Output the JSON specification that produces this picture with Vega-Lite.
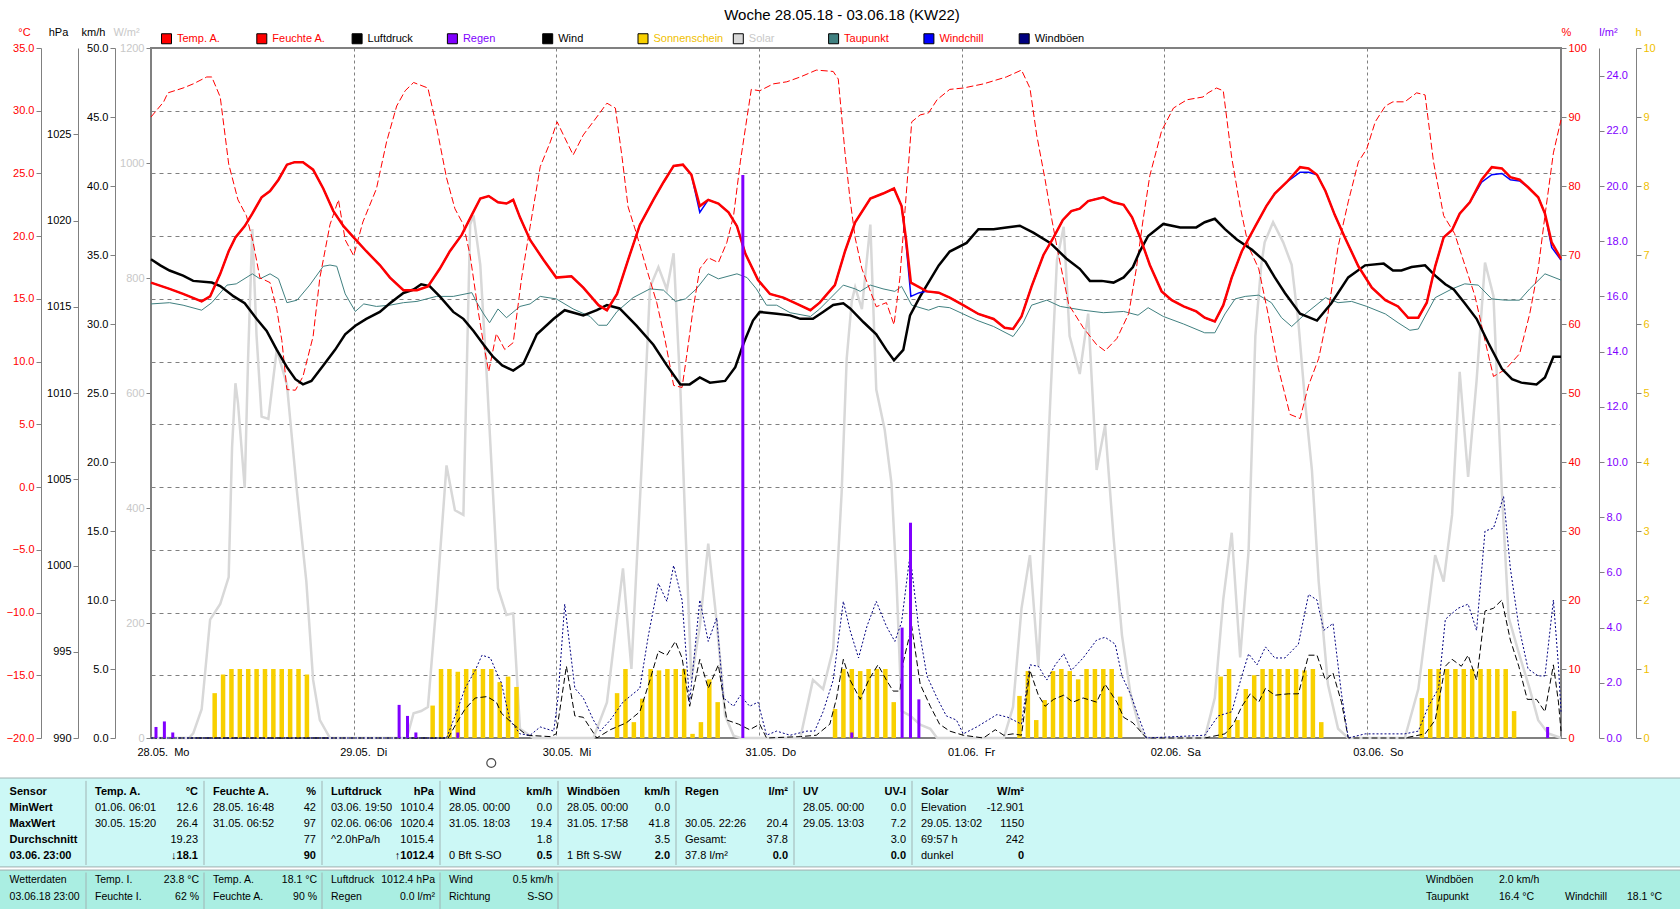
{
  "$schema": "https://vega.github.io/schema/vega-lite/v6.json",
  "width": 1410,
  "height": 690,
  "autosize": {"type": "none"},
  "padding": {"left": 151, "top": 48, "right": 119, "bottom": 171},
  "title": {"text": "Woche 28.05.18 - 03.06.18 (KW22)", "fontSize": 15, "fontWeight": "normal", "font": "Liberation Sans", "anchor": "middle", "dx": -14, "offset": 3, "color": "#000000"},
  "config": {
    "font": "Liberation Sans",
    "view": {"stroke": "#808080", "strokeWidth": 2},
    "axis": {"labelFont": "Liberation Sans", "labelFontSize": 11, "titleFont": "Liberation Sans", "titleFontSize": 11, "titleFontWeight": "normal", "domainColor": "#808080", "tickColor": "#808080", "tickSize": 5, "labelPadding": 2, "grid": false, "labelOverlap": false, "labelFlush": false},
    "text": {"font": "Liberation Sans", "fontSize": 11}
  },
  "resolve": {"scale": {"x": "independent", "y": "independent"}},
  "datasets": {
    "solar": [{"stunde":0,"wert":0},{"stunde":4.5,"wert":0},{"stunde":5,"wert":8},{"stunde":6,"wert":50},{"stunde":7,"wert":206},{"stunde":8.2,"wert":233},{"stunde":9.2,"wert":280},{"stunde":9.6,"wert":505},{"stunde":10,"wert":617},{"stunde":10.3,"wert":583},{"stunde":11.1,"wert":435},{"stunde":11.5,"wert":660},{"stunde":12,"wert":885},{"stunde":12.5,"wert":700},{"stunde":13.1,"wert":559},{"stunde":13.9,"wert":555},{"stunde":14.9,"wert":676},{"stunde":16.1,"wert":614},{"stunde":17.3,"wert":427},{"stunde":18.4,"wert":272},{"stunde":19.2,"wert":101},{"stunde":20,"wert":31},{"stunde":21.2,"wert":0},{"stunde":30.3,"wert":0},{"stunde":31.1,"wert":43},{"stunde":32,"wert":47},{"stunde":32.8,"wert":54},{"stunde":33.8,"wert":233},{"stunde":35,"wert":474},{"stunde":36,"wert":396},{"stunde":37,"wert":388},{"stunde":37.8,"wert":893},{"stunde":38.2,"wert":909},{"stunde":39,"wert":823},{"stunde":39.8,"wert":621},{"stunde":40.5,"wert":427},{"stunde":41.1,"wert":260},{"stunde":42.1,"wert":214},{"stunde":42.9,"wert":217},{"stunde":43.7,"wert":16},{"stunde":45.3,"wert":0},{"stunde":52.4,"wert":0},{"stunde":54,"wert":62},{"stunde":55.9,"wert":295},{"stunde":56.9,"wert":120},{"stunde":58.3,"wert":528},{"stunde":59.1,"wert":784},{"stunde":60.1,"wert":819},{"stunde":61.1,"wert":780},{"stunde":61.9,"wert":843},{"stunde":62.7,"wert":606},{"stunde":63.3,"wert":365},{"stunde":64,"wert":101},{"stunde":65,"wert":194},{"stunde":66,"wert":338},{"stunde":67,"wert":202},{"stunde":68,"wert":39},{"stunde":69,"wert":4},{"stunde":69.8,"wert":0},{"stunde":76.9,"wert":0},{"stunde":78.4,"wert":101},{"stunde":79.6,"wert":85},{"stunde":80.8,"wert":155},{"stunde":81.8,"wert":427},{"stunde":82.4,"wert":660},{"stunde":83,"wert":760},{"stunde":83.4,"wert":784},{"stunde":84.2,"wert":746},{"stunde":85.2,"wert":893},{"stunde":85.9,"wert":606},{"stunde":86.9,"wert":536},{"stunde":87.7,"wert":443},{"stunde":88.3,"wert":272},{"stunde":88.9,"wert":47},{"stunde":89.9,"wert":39},{"stunde":91.1,"wert":23},{"stunde":92.3,"wert":16},{"stunde":93.1,"wert":0},{"stunde":101,"wert":0},{"stunde":102.1,"wert":54},{"stunde":103.1,"wert":225},{"stunde":104.1,"wert":318},{"stunde":105.1,"wert":124},{"stunde":105.9,"wert":388},{"stunde":106.5,"wert":583},{"stunde":107.3,"wert":831},{"stunde":108.1,"wert":889},{"stunde":108.8,"wert":699},{"stunde":110,"wert":633},{"stunde":111,"wert":738},{"stunde":112,"wert":466},{"stunde":113,"wert":544},{"stunde":114,"wert":350},{"stunde":115,"wert":179},{"stunde":116,"wert":78},{"stunde":117.1,"wert":16},{"stunde":117.9,"wert":0},{"stunde":124.8,"wert":0},{"stunde":126,"wert":70},{"stunde":127,"wert":241},{"stunde":128,"wert":357},{"stunde":129,"wert":140},{"stunde":130,"wert":326},{"stunde":130.8,"wert":699},{"stunde":131.5,"wert":823},{"stunde":131.9,"wert":862},{"stunde":132.9,"wert":897},{"stunde":134.1,"wert":862},{"stunde":135.1,"wert":823},{"stunde":135.9,"wert":722},{"stunde":136.7,"wert":583},{"stunde":137.5,"wert":466},{"stunde":138.3,"wert":272},{"stunde":139.4,"wert":93},{"stunde":140.6,"wert":16},{"stunde":141.8,"wert":0},{"stunde":148.5,"wert":0},{"stunde":150.1,"wert":85},{"stunde":152.1,"wert":318},{"stunde":153.1,"wert":272},{"stunde":154.1,"wert":388},{"stunde":155,"wert":637},{"stunde":156,"wert":454},{"stunde":157,"wert":621},{"stunde":158,"wert":827},{"stunde":159,"wert":769},{"stunde":160,"wert":427},{"stunde":160.8,"wert":210},{"stunde":162,"wert":148},{"stunde":163.3,"wert":85},{"stunde":164.3,"wert":31},{"stunde":165.5,"wert":8},{"stunde":167,"wert":0}],
    "sonne": [{"stunde":7,"wert":0.65},{"stunde":8,"wert":0.92},{"stunde":9,"wert":1},{"stunde":10,"wert":1},{"stunde":11,"wert":1},{"stunde":12,"wert":1},{"stunde":13,"wert":1},{"stunde":14,"wert":1},{"stunde":15,"wert":1},{"stunde":16,"wert":1},{"stunde":17,"wert":1},{"stunde":18,"wert":0.92},{"stunde":33,"wert":0.47},{"stunde":34,"wert":1},{"stunde":35,"wert":1},{"stunde":36,"wert":0.96},{"stunde":37,"wert":1},{"stunde":38,"wert":1},{"stunde":39,"wert":1},{"stunde":40,"wert":1},{"stunde":41,"wert":0.81},{"stunde":42,"wert":0.89},{"stunde":43,"wert":0.74},{"stunde":55,"wert":0.65},{"stunde":56,"wert":1},{"stunde":57,"wert":0.23},{"stunde":58,"wert":0.57},{"stunde":59,"wert":1},{"stunde":60,"wert":0.98},{"stunde":61,"wert":1},{"stunde":62,"wert":1},{"stunde":63,"wert":1},{"stunde":64,"wert":0.06},{"stunde":65,"wert":0.23},{"stunde":66,"wert":0.85},{"stunde":67,"wert":0.52},{"stunde":81,"wert":0.42},{"stunde":82,"wert":1},{"stunde":83,"wert":1},{"stunde":84,"wert":0.97},{"stunde":85,"wert":1},{"stunde":86,"wert":1},{"stunde":87,"wert":1},{"stunde":88,"wert":0.52},{"stunde":103,"wert":0.61},{"stunde":104,"wert":0.97},{"stunde":105,"wert":0.26},{"stunde":106,"wert":0.55},{"stunde":107,"wert":0.97},{"stunde":108,"wert":1},{"stunde":109,"wert":0.97},{"stunde":110,"wert":0.85},{"stunde":111,"wert":1},{"stunde":112,"wert":1},{"stunde":113,"wert":1},{"stunde":114,"wert":1},{"stunde":115,"wert":0.6},{"stunde":127,"wert":0.89},{"stunde":128,"wert":1},{"stunde":129,"wert":0.26},{"stunde":130,"wert":0.71},{"stunde":131,"wert":0.91},{"stunde":132,"wert":1},{"stunde":133,"wert":1},{"stunde":134,"wert":1},{"stunde":135,"wert":1},{"stunde":136,"wert":1},{"stunde":137,"wert":0.98},{"stunde":138,"wert":1},{"stunde":139,"wert":0.23},{"stunde":151,"wert":0.58},{"stunde":152,"wert":1},{"stunde":153,"wert":1},{"stunde":154,"wert":1},{"stunde":155,"wert":1},{"stunde":156,"wert":1},{"stunde":157,"wert":1},{"stunde":158,"wert":1},{"stunde":159,"wert":1},{"stunde":160,"wert":1},{"stunde":161,"wert":1},{"stunde":162,"wert":0.39}],
    "wind": [{"stunde":0,"wert":0},{"stunde":35.2,"wert":0},{"stunde":36.2,"wert":1.1},{"stunde":37.2,"wert":2.1},{"stunde":38.4,"wert":2.9},{"stunde":39.8,"wert":3.0},{"stunde":40.9,"wert":2.6},{"stunde":41.5,"wert":1.8},{"stunde":42.9,"wert":1.0},{"stunde":44.5,"wert":0.2},{"stunde":47.3,"wert":0.1},{"stunde":48,"wert":0.3},{"stunde":49.2,"wert":5.2},{"stunde":50.2,"wert":1.6},{"stunde":51.2,"wert":1.5},{"stunde":52.8,"wert":0},{"stunde":54.4,"wert":0.6},{"stunde":56.3,"wert":1.1},{"stunde":57.9,"wert":1.9},{"stunde":59.1,"wert":4.2},{"stunde":60.1,"wert":6.3},{"stunde":61.1,"wert":6.0},{"stunde":62.1,"wert":7.0},{"stunde":62.9,"wert":5.8},{"stunde":63.8,"wert":2.3},{"stunde":65,"wert":5.7},{"stunde":66,"wert":3.6},{"stunde":67.2,"wert":5.3},{"stunde":68.2,"wert":1.3},{"stunde":69.6,"wert":1.0},{"stunde":70.9,"wert":0.6},{"stunde":72.1,"wert":1.0},{"stunde":72.9,"wert":0},{"stunde":76.9,"wert":0.1},{"stunde":78.8,"wert":0.2},{"stunde":80.4,"wert":1.0},{"stunde":81.2,"wert":2.9},{"stunde":82,"wert":5.7},{"stunde":82.8,"wert":4.2},{"stunde":84,"wert":2.8},{"stunde":85,"wert":4.2},{"stunde":86.1,"wert":5.3},{"stunde":87.1,"wert":4.2},{"stunde":87.9,"wert":3.4},{"stunde":88.7,"wert":3.4},{"stunde":89.1,"wert":5.5},{"stunde":90.1,"wert":8.1},{"stunde":91.1,"wert":3.9},{"stunde":92.3,"wert":2.3},{"stunde":93.4,"wert":1.0},{"stunde":94.6,"wert":0.5},{"stunde":96.2,"wert":0.2},{"stunde":98.6,"wert":0},{"stunde":100,"wert":0.6},{"stunde":101,"wert":0.2},{"stunde":102.1,"wert":0.3},{"stunde":103.1,"wert":0.2},{"stunde":104.1,"wert":4.9},{"stunde":105.1,"wert":3.1},{"stunde":105.9,"wert":2.3},{"stunde":106.9,"wert":2.8},{"stunde":108.1,"wert":3.1},{"stunde":109.2,"wert":2.6},{"stunde":110.4,"wert":2.9},{"stunde":112,"wert":2.6},{"stunde":113,"wert":3.9},{"stunde":114.4,"wert":2.6},{"stunde":115.2,"wert":1.5},{"stunde":116.3,"wert":1.1},{"stunde":117.9,"wert":0},{"stunde":124.8,"wert":0},{"stunde":127.2,"wert":0.3},{"stunde":128.2,"wert":1.0},{"stunde":129.2,"wert":2.3},{"stunde":130.2,"wert":3.2},{"stunde":131.2,"wert":2.6},{"stunde":132,"wert":3.6},{"stunde":133.1,"wert":3.1},{"stunde":134.7,"wert":3.2},{"stunde":135.9,"wert":3.2},{"stunde":137.1,"wert":6.0},{"stunde":138.1,"wert":6.0},{"stunde":139.1,"wert":4.2},{"stunde":140,"wert":4.7},{"stunde":141,"wert":2.6},{"stunde":141.8,"wert":0},{"stunde":148.5,"wert":0},{"stunde":150.9,"wert":0.3},{"stunde":152.1,"wert":1.3},{"stunde":153.3,"wert":5.2},{"stunde":154.1,"wert":5.7},{"stunde":155.2,"wert":5.2},{"stunde":156,"wert":6.0},{"stunde":157,"wert":4.2},{"stunde":158,"wert":9.2},{"stunde":159,"wert":9.4},{"stunde":160,"wert":10.0},{"stunde":161,"wert":7.1},{"stunde":162,"wert":5.2},{"stunde":163,"wert":2.8},{"stunde":164.1,"wert":2.8},{"stunde":165.1,"wert":1.9},{"stunde":166.1,"wert":5.3},{"stunde":166.7,"wert":2.6},{"stunde":167,"wert":0.5}],
    "boeen": [{"stunde":0,"wert":0},{"stunde":35,"wert":0},{"stunde":35.2,"wert":0.3},{"stunde":36.2,"wert":1.9},{"stunde":37.2,"wert":3.6},{"stunde":38.4,"wert":4.9},{"stunde":39.2,"wert":6.0},{"stunde":40.2,"wert":5.8},{"stunde":41.1,"wert":4.5},{"stunde":41.5,"wert":4.0},{"stunde":42.5,"wert":1.3},{"stunde":43.7,"wert":0.3},{"stunde":44.9,"wert":0.2},{"stunde":46.1,"wert":0.8},{"stunde":47.7,"wert":0.5},{"stunde":48.2,"wert":2.9},{"stunde":49,"wert":9.7},{"stunde":50.2,"wert":3.6},{"stunde":51.2,"wert":2.9},{"stunde":52.4,"wert":1.3},{"stunde":53.2,"wert":0.5},{"stunde":54.4,"wert":1.3},{"stunde":55.9,"wert":2.6},{"stunde":57.9,"wert":3.6},{"stunde":58.9,"wert":7.4},{"stunde":60.1,"wert":11.2},{"stunde":61.1,"wert":9.9},{"stunde":61.9,"wert":12.5},{"stunde":62.9,"wert":10.0},{"stunde":63.8,"wert":2.6},{"stunde":65,"wert":10.0},{"stunde":66,"wert":7.0},{"stunde":67,"wert":8.7},{"stunde":67.8,"wert":2.9},{"stunde":69,"wert":2.3},{"stunde":69.8,"wert":3.1},{"stunde":70.9,"wert":2.3},{"stunde":71.9,"wert":2.6},{"stunde":72.9,"wert":0.2},{"stunde":74.1,"wert":0.5},{"stunde":75.7,"wert":0.2},{"stunde":77.7,"wert":0.5},{"stunde":78.6,"wert":0.5},{"stunde":79.6,"wert":1.9},{"stunde":80.8,"wert":4.2},{"stunde":82,"wert":9.9},{"stunde":82.8,"wert":7.8},{"stunde":83.8,"wert":5.8},{"stunde":84.8,"wert":8.1},{"stunde":85.9,"wert":9.9},{"stunde":87.1,"wert":8.1},{"stunde":88.1,"wert":7.0},{"stunde":88.9,"wert":8.4},{"stunde":89.9,"wert":13.3},{"stunde":90.9,"wert":8.1},{"stunde":91.9,"wert":4.5},{"stunde":93.1,"wert":2.9},{"stunde":94.2,"wert":1.6},{"stunde":95.4,"wert":1.3},{"stunde":96.2,"wert":0.3},{"stunde":97.8,"wert":0.8},{"stunde":100.2,"wert":1.7},{"stunde":101.5,"wert":1.5},{"stunde":103.1,"wert":1.0},{"stunde":104.1,"wert":5.3},{"stunde":105.1,"wert":5.2},{"stunde":106.1,"wert":4.2},{"stunde":107.1,"wert":5.3},{"stunde":108.1,"wert":6.1},{"stunde":109,"wert":4.9},{"stunde":110.4,"wert":5.8},{"stunde":112,"wert":7.1},{"stunde":113,"wert":7.3},{"stunde":114.2,"wert":6.8},{"stunde":115,"wert":4.5},{"stunde":116,"wert":3.2},{"stunde":117.1,"wert":1.3},{"stunde":117.9,"wert":0},{"stunde":124.8,"wert":0.2},{"stunde":126.4,"wert":1.6},{"stunde":128,"wert":1.9},{"stunde":129.2,"wert":4.5},{"stunde":130,"wert":6.1},{"stunde":131,"wert":5.3},{"stunde":132,"wert":6.6},{"stunde":133.1,"wert":5.8},{"stunde":134.3,"wert":5.8},{"stunde":135.9,"wert":6.8},{"stunde":137.1,"wert":10.4},{"stunde":138.1,"wert":10.0},{"stunde":138.9,"wert":7.8},{"stunde":140,"wert":8.3},{"stunde":141,"wert":3.2},{"stunde":141.8,"wert":0},{"stunde":143.8,"wert":0.3},{"stunde":148.5,"wert":0.3},{"stunde":150.1,"wert":0.5},{"stunde":151.3,"wert":2.3},{"stunde":152.5,"wert":3.6},{"stunde":153.3,"wert":8.6},{"stunde":154.8,"wert":9.4},{"stunde":156,"wert":9.7},{"stunde":157,"wert":7.8},{"stunde":158,"wert":15.0},{"stunde":159,"wert":15.2},{"stunde":160.2,"wert":17.5},{"stunde":161,"wert":12.3},{"stunde":162,"wert":8.1},{"stunde":163.1,"wert":5.0},{"stunde":164.3,"wert":4.5},{"stunde":165.1,"wert":4.5},{"stunde":166.1,"wert":10.0},{"stunde":166.7,"wert":5.2},{"stunde":167,"wert":1.9}],
    "taupunkt": [{"stunde":0,"wert":14.6},{"stunde":2.2,"wert":14.7},{"stunde":3.8,"wert":14.5},{"stunde":6,"wert":14.1},{"stunde":7.2,"wert":14.7},{"stunde":9,"wert":16.1},{"stunde":10.1,"wert":16.2},{"stunde":12,"wert":17.0},{"stunde":12.9,"wert":16.6},{"stunde":14.1,"wert":17.0},{"stunde":15.1,"wert":16.6},{"stunde":16.1,"wert":14.7},{"stunde":17.3,"wert":14.9},{"stunde":18.8,"wert":16.1},{"stunde":20.4,"wert":17.6},{"stunde":21.2,"wert":17.7},{"stunde":22,"wert":17.6},{"stunde":23,"wert":15.4},{"stunde":24.2,"wert":14.0},{"stunde":25.2,"wert":14.6},{"stunde":26.7,"wert":14.4},{"stunde":28.3,"wert":14.5},{"stunde":29.9,"wert":14.7},{"stunde":31.5,"wert":14.8},{"stunde":33.8,"wert":15.2},{"stunde":35.8,"wert":15.2},{"stunde":38,"wert":15.5},{"stunde":38.6,"wert":14.7},{"stunde":39.4,"wert":13.8},{"stunde":40.1,"wert":13.1},{"stunde":41.1,"wert":14.2},{"stunde":42.1,"wert":13.5},{"stunde":43.7,"wert":14.4},{"stunde":44.9,"wert":14.6},{"stunde":46.1,"wert":15.2},{"stunde":48,"wert":15.0},{"stunde":50,"wert":14.2},{"stunde":52,"wert":13.6},{"stunde":53,"wert":12.9},{"stunde":54,"wert":12.9},{"stunde":55.2,"wert":14.0},{"stunde":57.1,"wert":15.1},{"stunde":59.1,"wert":15.8},{"stunde":60.7,"wert":15.7},{"stunde":62.1,"wert":14.8},{"stunde":63.3,"wert":15.0},{"stunde":64.6,"wert":15.8},{"stunde":66,"wert":17.0},{"stunde":67.2,"wert":16.6},{"stunde":69.4,"wert":17.0},{"stunde":70.6,"wert":16.7},{"stunde":71.7,"wert":15.8},{"stunde":72.9,"wert":14.5},{"stunde":74.1,"wert":14.5},{"stunde":75.7,"wert":13.9},{"stunde":78.1,"wert":13.6},{"stunde":79.2,"wert":14.2},{"stunde":82,"wert":16.1},{"stunde":83.4,"wert":15.8},{"stunde":84,"wert":15.6},{"stunde":85.2,"wert":16.1},{"stunde":86.7,"wert":15.8},{"stunde":88.1,"wert":15.6},{"stunde":88.9,"wert":16.0},{"stunde":90.1,"wert":14.5},{"stunde":92.1,"wert":14.1},{"stunde":93.3,"wert":14.4},{"stunde":94.6,"wert":14.3},{"stunde":97.8,"wert":13.3},{"stunde":99.8,"wert":12.8},{"stunde":102.1,"wert":12.0},{"stunde":103.3,"wert":13.1},{"stunde":104.3,"wert":14.5},{"stunde":106.1,"wert":14.9},{"stunde":107.7,"wert":14.4},{"stunde":110.4,"wert":14.1},{"stunde":112.8,"wert":13.9},{"stunde":115.2,"wert":14.0},{"stunde":116.9,"wert":13.7},{"stunde":118.1,"wert":14.3},{"stunde":119.9,"wert":13.6},{"stunde":122.3,"wert":13.0},{"stunde":124.8,"wert":12.3},{"stunde":126,"wert":12.3},{"stunde":127.2,"wert":13.8},{"stunde":128.4,"wert":15.0},{"stunde":129.6,"wert":15.2},{"stunde":131.2,"wert":15.3},{"stunde":132.7,"wert":14.7},{"stunde":133.9,"wert":13.5},{"stunde":135.1,"wert":12.8},{"stunde":136.7,"wert":13.8},{"stunde":139.1,"wert":15.1},{"stunde":140.6,"wert":14.7},{"stunde":142.2,"wert":14.8},{"stunde":144,"wert":14.4},{"stunde":146.2,"wert":13.8},{"stunde":147.7,"wert":13.1},{"stunde":149.1,"wert":12.5},{"stunde":150.1,"wert":12.6},{"stunde":152.1,"wert":15.1},{"stunde":154.1,"wert":15.8},{"stunde":155.6,"wert":16.2},{"stunde":157.2,"wert":16.1},{"stunde":158.8,"wert":15.0},{"stunde":160.4,"wert":14.9},{"stunde":162.1,"wert":14.9},{"stunde":163.3,"wert":15.8},{"stunde":165.1,"wert":17.0},{"stunde":167,"wert":16.5}],
    "feuchte": [{"stunde":0,"wert":90.0},{"stunde":1.5,"wert":92.2},{"stunde":2,"wert":93.5},{"stunde":3.8,"wert":94.2},{"stunde":5,"wert":94.8},{"stunde":6.6,"wert":95.8},{"stunde":7.2,"wert":95.8},{"stunde":8.2,"wert":92.9},{"stunde":9.2,"wert":83.2},{"stunde":10.3,"wert":78.0},{"stunde":11.3,"wert":75.7},{"stunde":12.1,"wert":71.8},{"stunde":12.9,"wert":66.7},{"stunde":14.1,"wert":66.0},{"stunde":14.9,"wert":62.1},{"stunde":15.5,"wert":57.6},{"stunde":16.1,"wert":50.5},{"stunde":17.1,"wert":50.4},{"stunde":18,"wert":52.4},{"stunde":19.2,"wert":58.2},{"stunde":20,"wert":66.7},{"stunde":21.2,"wert":74.4},{"stunde":22.2,"wert":78.0},{"stunde":23,"wert":72.2},{"stunde":24,"wert":69.9},{"stunde":25.1,"wert":74.8},{"stunde":26.7,"wert":79.6},{"stunde":27.9,"wert":86.4},{"stunde":29.1,"wert":91.6},{"stunde":30.1,"wert":93.8},{"stunde":31.1,"wert":95.0},{"stunde":32.8,"wert":94.2},{"stunde":33.8,"wert":88.7},{"stunde":35,"wert":81.2},{"stunde":36,"wert":76.7},{"stunde":37,"wert":74.4},{"stunde":37.8,"wert":69.9},{"stunde":38.8,"wert":61.5},{"stunde":39.4,"wert":57.0},{"stunde":40,"wert":53.1},{"stunde":40.9,"wert":58.6},{"stunde":41.9,"wert":56.3},{"stunde":42.9,"wert":57.3},{"stunde":43.9,"wert":66.7},{"stunde":44.9,"wert":74.1},{"stunde":46.1,"wert":82.8},{"stunde":47.3,"wert":86.4},{"stunde":48.1,"wert":89.3},{"stunde":49,"wert":87.0},{"stunde":50,"wert":84.5},{"stunde":51.2,"wert":87.4},{"stunde":52.8,"wert":90.0},{"stunde":54,"wert":92.0},{"stunde":55,"wert":91.3},{"stunde":55.8,"wert":84.1},{"stunde":56.5,"wert":77.0},{"stunde":57.5,"wert":73.1},{"stunde":58.7,"wert":68.0},{"stunde":59.9,"wert":63.1},{"stunde":60.9,"wert":57.6},{"stunde":61.9,"wert":51.1},{"stunde":62.9,"wert":50.8},{"stunde":63.4,"wert":55.0},{"stunde":64.2,"wert":62.1},{"stunde":65,"wert":68.0},{"stunde":66,"wert":69.6},{"stunde":67.2,"wert":68.9},{"stunde":68.2,"wert":71.8},{"stunde":69,"wert":75.7},{"stunde":69.8,"wert":83.5},{"stunde":70.6,"wert":90.0},{"stunde":71.1,"wert":94.0},{"stunde":72.1,"wert":93.8},{"stunde":73.7,"wert":94.8},{"stunde":75.3,"wert":95.1},{"stunde":76.9,"wert":95.8},{"stunde":78.8,"wert":96.8},{"stunde":80.8,"wert":96.6},{"stunde":81.4,"wert":95.5},{"stunde":82.2,"wert":84.8},{"stunde":82.8,"wert":78.0},{"stunde":83.4,"wert":72.5},{"stunde":84.2,"wert":68.0},{"stunde":85.9,"wert":62.5},{"stunde":87.1,"wert":63.1},{"stunde":88,"wert":59.9},{"stunde":88.7,"wert":66.7},{"stunde":89.3,"wert":76.4},{"stunde":89.7,"wert":82.8},{"stunde":90.1,"wert":89.3},{"stunde":91.1,"wert":90.3},{"stunde":92.1,"wert":90.6},{"stunde":93.1,"wert":92.5},{"stunde":94.6,"wert":94.0},{"stunde":96.2,"wert":94.2},{"stunde":98.6,"wert":94.8},{"stunde":101.3,"wert":95.8},{"stunde":103.1,"wert":96.8},{"stunde":104.1,"wert":94.2},{"stunde":104.9,"wert":87.4},{"stunde":105.9,"wert":80.9},{"stunde":106.7,"wert":75.1},{"stunde":107.5,"wert":69.9},{"stunde":108.7,"wert":62.8},{"stunde":110.4,"wert":59.5},{"stunde":112,"wert":57.0},{"stunde":113,"wert":56.1},{"stunde":114.4,"wert":57.9},{"stunde":115.8,"wert":61.5},{"stunde":116.7,"wert":68.0},{"stunde":117.5,"wert":75.1},{"stunde":118.3,"wert":81.5},{"stunde":119.7,"wert":88.0},{"stunde":121.1,"wert":91.3},{"stunde":122.7,"wert":92.5},{"stunde":124.6,"wert":92.9},{"stunde":125.2,"wert":93.5},{"stunde":126.2,"wert":94.2},{"stunde":127,"wert":93.8},{"stunde":128,"wert":84.1},{"stunde":129,"wert":77.0},{"stunde":130,"wert":71.2},{"stunde":131.2,"wert":68.0},{"stunde":132.3,"wert":61.5},{"stunde":133.5,"wert":53.7},{"stunde":134.9,"wert":46.9},{"stunde":136.1,"wert":46.3},{"stunde":137.1,"wert":51.1},{"stunde":138.3,"wert":55.0},{"stunde":139.4,"wert":61.5},{"stunde":140.6,"wert":71.2},{"stunde":141.8,"wert":77.7},{"stunde":143,"wert":83.5},{"stunde":144,"wert":85.4},{"stunde":145,"wert":89.3},{"stunde":146.2,"wert":91.6},{"stunde":147.1,"wert":92.2},{"stunde":148.5,"wert":92.2},{"stunde":149.9,"wert":93.5},{"stunde":150.9,"wert":93.2},{"stunde":151.9,"wert":83.5},{"stunde":153.1,"wert":75.7},{"stunde":154.4,"wert":73.1},{"stunde":155.6,"wert":68.6},{"stunde":156.8,"wert":64.1},{"stunde":158,"wert":57.6},{"stunde":159,"wert":52.4},{"stunde":160.4,"wert":53.4},{"stunde":162.1,"wert":55.7},{"stunde":163.3,"wert":61.5},{"stunde":164.3,"wert":68.0},{"stunde":165.1,"wert":75.7},{"stunde":166.1,"wert":84.8},{"stunde":167,"wert":89.6}],
    "luftdruck": [{"stunde":0,"wert":1017.75},{"stunde":1.1,"wert":1017.4},{"stunde":2.2,"wert":1017.1},{"stunde":3.8,"wert":1016.8},{"stunde":5,"wert":1016.5},{"stunde":7.2,"wert":1016.4},{"stunde":8.2,"wert":1016.2},{"stunde":9.8,"wert":1015.6},{"stunde":11.1,"wert":1015.2},{"stunde":12.5,"wert":1014.3},{"stunde":13.7,"wert":1013.6},{"stunde":14.9,"wert":1012.5},{"stunde":16.1,"wert":1011.5},{"stunde":17.1,"wert":1010.8},{"stunde":18,"wert":1010.5},{"stunde":19,"wert":1010.7},{"stunde":20.4,"wert":1011.6},{"stunde":21.8,"wert":1012.5},{"stunde":23,"wert":1013.4},{"stunde":24.2,"wert":1013.9},{"stunde":25.5,"wert":1014.3},{"stunde":27.1,"wert":1014.7},{"stunde":28.3,"wert":1015.2},{"stunde":29.9,"wert":1015.8},{"stunde":31.1,"wert":1016.0},{"stunde":32,"wert":1016.3},{"stunde":33,"wert":1016.2},{"stunde":34.2,"wert":1015.6},{"stunde":35.8,"wert":1014.7},{"stunde":37,"wert":1014.3},{"stunde":38.2,"wert":1013.6},{"stunde":39.4,"wert":1012.8},{"stunde":40.5,"wert":1012.1},{"stunde":41.6,"wert":1011.6},{"stunde":42.9,"wert":1011.3},{"stunde":44.1,"wert":1011.7},{"stunde":45.7,"wert":1013.4},{"stunde":47.7,"wert":1014.3},{"stunde":49,"wert":1014.8},{"stunde":51.2,"wert":1014.5},{"stunde":52.8,"wert":1014.8},{"stunde":54,"wert":1015.1},{"stunde":55.5,"wert":1014.9},{"stunde":57.5,"wert":1013.9},{"stunde":59.5,"wert":1012.8},{"stunde":61.1,"wert":1011.6},{"stunde":62.7,"wert":1010.5},{"stunde":63.8,"wert":1010.5},{"stunde":65,"wert":1010.9},{"stunde":66.2,"wert":1010.6},{"stunde":68,"wert":1010.7},{"stunde":69.2,"wert":1011.5},{"stunde":70.2,"wert":1012.9},{"stunde":71.3,"wert":1014.2},{"stunde":72.1,"wert":1014.7},{"stunde":74.1,"wert":1014.6},{"stunde":75.7,"wert":1014.5},{"stunde":76.9,"wert":1014.3},{"stunde":78.4,"wert":1014.3},{"stunde":79.6,"wert":1014.7},{"stunde":80.8,"wert":1015.1},{"stunde":82,"wert":1015.2},{"stunde":82.8,"wert":1014.9},{"stunde":84.4,"wert":1014.1},{"stunde":85.9,"wert":1013.4},{"stunde":87.1,"wert":1012.5},{"stunde":88,"wert":1011.9},{"stunde":89.1,"wert":1012.5},{"stunde":89.9,"wert":1014.5},{"stunde":91.1,"wert":1015.6},{"stunde":93.3,"wert":1017.4},{"stunde":94.6,"wert":1018.2},{"stunde":96.6,"wert":1018.7},{"stunde":98,"wert":1019.5},{"stunde":99.8,"wert":1019.5},{"stunde":101.3,"wert":1019.6},{"stunde":102.9,"wert":1019.7},{"stunde":104.5,"wert":1019.3},{"stunde":106.5,"wert":1018.7},{"stunde":108.4,"wert":1017.8},{"stunde":110,"wert":1017.2},{"stunde":111.2,"wert":1016.5},{"stunde":112.6,"wert":1016.5},{"stunde":114,"wert":1016.4},{"stunde":115.2,"wert":1016.7},{"stunde":116.3,"wert":1017.3},{"stunde":117.1,"wert":1018.2},{"stunde":118.1,"wert":1019.1},{"stunde":119.9,"wert":1019.8},{"stunde":121.9,"wert":1019.6},{"stunde":123.8,"wert":1019.6},{"stunde":124.8,"wert":1019.9},{"stunde":126,"wert":1020.1},{"stunde":127.2,"wert":1019.5},{"stunde":128.6,"wert":1018.9},{"stunde":130.4,"wert":1018.3},{"stunde":132,"wert":1017.6},{"stunde":133.1,"wert":1016.7},{"stunde":134.3,"wert":1015.8},{"stunde":136.1,"wert":1014.6},{"stunde":138.1,"wert":1014.2},{"stunde":139.8,"wert":1015.2},{"stunde":141.8,"wert":1016.7},{"stunde":143.8,"wert":1017.4},{"stunde":146,"wert":1017.5},{"stunde":147.1,"wert":1017.1},{"stunde":148.1,"wert":1017.1},{"stunde":149.3,"wert":1017.3},{"stunde":150.9,"wert":1017.4},{"stunde":152.1,"wert":1016.8},{"stunde":153.3,"wert":1016.3},{"stunde":154.3,"wert":1016.0},{"stunde":155.6,"wert":1015.2},{"stunde":157,"wert":1014.3},{"stunde":158.4,"wert":1012.9},{"stunde":160,"wert":1011.4},{"stunde":161.2,"wert":1010.8},{"stunde":162.3,"wert":1010.6},{"stunde":164.1,"wert":1010.5},{"stunde":165.1,"wert":1010.9},{"stunde":166.1,"wert":1012.1},{"stunde":167,"wert":1012.1}],
    "windchill": [{"stunde":0,"wert":16.3},{"stunde":2.2,"wert":15.8},{"stunde":3.8,"wert":15.4},{"stunde":6,"wert":14.8},{"stunde":7,"wert":15.2},{"stunde":8.2,"wert":17.0},{"stunde":9.2,"wert":18.8},{"stunde":10,"wert":19.9},{"stunde":11.1,"wert":20.8},{"stunde":12,"wert":21.8},{"stunde":13.1,"wert":23.1},{"stunde":14.1,"wert":23.6},{"stunde":15.1,"wert":24.5},{"stunde":16.1,"wert":25.7},{"stunde":17,"wert":25.9},{"stunde":18,"wert":25.9},{"stunde":19.2,"wert":25.3},{"stunde":20.4,"wert":23.8},{"stunde":21.6,"wert":22.0},{"stunde":22.8,"wert":20.8},{"stunde":24,"wert":19.9},{"stunde":25.5,"wert":18.8},{"stunde":27.1,"wert":17.7},{"stunde":28.3,"wert":16.7},{"stunde":29.9,"wert":15.7},{"stunde":31.5,"wert":15.7},{"stunde":32.8,"wert":16.0},{"stunde":34.2,"wert":17.4},{"stunde":35.4,"wert":18.8},{"stunde":36.8,"wert":20.1},{"stunde":38,"wert":21.7},{"stunde":39,"wert":23.0},{"stunde":40,"wert":23.2},{"stunde":41.1,"wert":22.7},{"stunde":42.1,"wert":22.6},{"stunde":42.9,"wert":22.9},{"stunde":43.7,"wert":21.5},{"stunde":44.9,"wert":19.7},{"stunde":46.5,"wert":18.1},{"stunde":48,"wert":16.7},{"stunde":49.8,"wert":16.8},{"stunde":51.2,"wert":15.9},{"stunde":53,"wert":14.5},{"stunde":54,"wert":14.1},{"stunde":55.2,"wert":15.4},{"stunde":56.5,"wert":18.1},{"stunde":57.9,"wert":20.9},{"stunde":59.5,"wert":22.9},{"stunde":60.7,"wert":24.3},{"stunde":61.9,"wert":25.6},{"stunde":63,"wert":25.7},{"stunde":64,"wert":24.9},{"stunde":65,"wert":21.9},{"stunde":66,"wert":22.9},{"stunde":67.2,"wert":22.6},{"stunde":68.4,"wert":21.9},{"stunde":69.4,"wert":20.8},{"stunde":70.4,"wert":18.6},{"stunde":71.9,"wert":16.5},{"stunde":73.3,"wert":15.4},{"stunde":74.9,"wert":15.1},{"stunde":76.5,"wert":14.6},{"stunde":78.1,"wert":14.1},{"stunde":79.2,"wert":14.7},{"stunde":81,"wert":16.1},{"stunde":82.2,"wert":18.8},{"stunde":83.4,"wert":21.1},{"stunde":85.2,"wert":23.0},{"stunde":86.7,"wert":23.4},{"stunde":88,"wert":23.8},{"stunde":88.9,"wert":22.4},{"stunde":89.4,"wert":19.6},{"stunde":90,"wert":15.2},{"stunde":91,"wert":15.5},{"stunde":91.9,"wert":15.6},{"stunde":93.3,"wert":15.5},{"stunde":94.6,"wert":15.1},{"stunde":96.2,"wert":14.5},{"stunde":98,"wert":13.8},{"stunde":99.8,"wert":13.4},{"stunde":101.1,"wert":12.7},{"stunde":102.1,"wert":12.6},{"stunde":103.1,"wert":13.6},{"stunde":104.3,"wert":16.0},{"stunde":105.7,"wert":18.5},{"stunde":106.9,"wert":19.9},{"stunde":108,"wert":21.3},{"stunde":109,"wert":22.0},{"stunde":110,"wert":22.2},{"stunde":111,"wert":22.8},{"stunde":112.8,"wert":23.1},{"stunde":114,"wert":22.7},{"stunde":115.2,"wert":22.5},{"stunde":116.2,"wert":21.5},{"stunde":117.1,"wert":20.0},{"stunde":118.3,"wert":17.7},{"stunde":119.7,"wert":15.6},{"stunde":120.9,"wert":14.9},{"stunde":122.3,"wert":14.4},{"stunde":123.8,"wert":14.0},{"stunde":124.8,"wert":13.5},{"stunde":126,"wert":13.2},{"stunde":127,"wert":14.5},{"stunde":128,"wert":16.7},{"stunde":129.2,"wert":18.8},{"stunde":130.8,"wert":20.8},{"stunde":132.1,"wert":22.4},{"stunde":133.1,"wert":23.4},{"stunde":134.5,"wert":24.3},{"stunde":136.1,"wert":25.1},{"stunde":137.1,"wert":25.1},{"stunde":138.1,"wert":24.9},{"stunde":139.1,"wert":23.6},{"stunde":140.2,"wert":21.7},{"stunde":141.4,"wert":19.9},{"stunde":143,"wert":17.6},{"stunde":144.6,"wert":15.9},{"stunde":146.2,"wert":14.9},{"stunde":147.7,"wert":14.4},{"stunde":148.9,"wert":13.5},{"stunde":150.1,"wert":13.5},{"stunde":151.1,"wert":14.7},{"stunde":152.1,"wert":17.6},{"stunde":153.1,"wert":19.9},{"stunde":154.1,"wert":20.5},{"stunde":155,"wert":21.8},{"stunde":156.2,"wert":22.7},{"stunde":157.6,"wert":24.3},{"stunde":158.8,"wert":24.9},{"stunde":160,"wert":25.0},{"stunde":161,"wert":24.5},{"stunde":162.1,"wert":24.4},{"stunde":163.1,"wert":23.9},{"stunde":164.3,"wert":23.1},{"stunde":165.1,"wert":21.8},{"stunde":165.9,"wert":19.1},{"stunde":167,"wert":18.1}],
    "temp": [{"stunde":0,"wert":16.3},{"stunde":2.2,"wert":15.8},{"stunde":3.8,"wert":15.4},{"stunde":6,"wert":14.8},{"stunde":7,"wert":15.2},{"stunde":8.2,"wert":17.0},{"stunde":9.2,"wert":18.8},{"stunde":10,"wert":19.9},{"stunde":11.1,"wert":20.8},{"stunde":12,"wert":21.8},{"stunde":13.1,"wert":23.1},{"stunde":14.1,"wert":23.6},{"stunde":15.1,"wert":24.5},{"stunde":16.1,"wert":25.7},{"stunde":17,"wert":25.9},{"stunde":18,"wert":25.9},{"stunde":19.2,"wert":25.3},{"stunde":20.4,"wert":23.8},{"stunde":21.6,"wert":22.0},{"stunde":22.8,"wert":20.8},{"stunde":24,"wert":19.9},{"stunde":25.5,"wert":18.8},{"stunde":27.1,"wert":17.7},{"stunde":28.3,"wert":16.7},{"stunde":29.9,"wert":15.7},{"stunde":31.5,"wert":15.7},{"stunde":32.8,"wert":16.0},{"stunde":34.2,"wert":17.4},{"stunde":35.4,"wert":18.8},{"stunde":36.8,"wert":20.1},{"stunde":38,"wert":21.7},{"stunde":39,"wert":23.0},{"stunde":40,"wert":23.2},{"stunde":41.1,"wert":22.7},{"stunde":42.1,"wert":22.6},{"stunde":42.9,"wert":22.9},{"stunde":43.7,"wert":21.5},{"stunde":44.9,"wert":19.7},{"stunde":46.5,"wert":18.1},{"stunde":48,"wert":16.7},{"stunde":49.8,"wert":16.8},{"stunde":51.2,"wert":15.9},{"stunde":53,"wert":14.5},{"stunde":54,"wert":14.1},{"stunde":55.2,"wert":15.4},{"stunde":56.5,"wert":18.1},{"stunde":57.9,"wert":20.9},{"stunde":59.5,"wert":22.9},{"stunde":60.7,"wert":24.3},{"stunde":61.9,"wert":25.6},{"stunde":63,"wert":25.7},{"stunde":64,"wert":24.9},{"stunde":65,"wert":22.4},{"stunde":66,"wert":22.9},{"stunde":67.2,"wert":22.6},{"stunde":68.4,"wert":21.9},{"stunde":69.4,"wert":20.8},{"stunde":70.4,"wert":18.6},{"stunde":71.9,"wert":16.5},{"stunde":73.3,"wert":15.4},{"stunde":74.9,"wert":15.1},{"stunde":76.5,"wert":14.6},{"stunde":78.1,"wert":14.1},{"stunde":79.2,"wert":14.7},{"stunde":81,"wert":16.1},{"stunde":82.2,"wert":18.8},{"stunde":83.4,"wert":21.1},{"stunde":85.2,"wert":23.0},{"stunde":86.7,"wert":23.4},{"stunde":88,"wert":23.8},{"stunde":88.9,"wert":22.4},{"stunde":89.4,"wert":19.9},{"stunde":90,"wert":16.3},{"stunde":91.9,"wert":15.6},{"stunde":93.3,"wert":15.5},{"stunde":94.6,"wert":15.1},{"stunde":96.2,"wert":14.5},{"stunde":98,"wert":13.8},{"stunde":99.8,"wert":13.4},{"stunde":101.1,"wert":12.7},{"stunde":102.1,"wert":12.6},{"stunde":103.1,"wert":13.6},{"stunde":104.3,"wert":16.0},{"stunde":105.7,"wert":18.5},{"stunde":106.9,"wert":19.9},{"stunde":108,"wert":21.3},{"stunde":109,"wert":22.0},{"stunde":110,"wert":22.2},{"stunde":111,"wert":22.8},{"stunde":112.8,"wert":23.1},{"stunde":114,"wert":22.7},{"stunde":115.2,"wert":22.5},{"stunde":116.2,"wert":21.5},{"stunde":117.1,"wert":20.0},{"stunde":118.3,"wert":17.7},{"stunde":119.7,"wert":15.6},{"stunde":120.9,"wert":14.9},{"stunde":122.3,"wert":14.4},{"stunde":123.8,"wert":14.0},{"stunde":124.8,"wert":13.5},{"stunde":126,"wert":13.2},{"stunde":127,"wert":14.5},{"stunde":128,"wert":16.7},{"stunde":129.2,"wert":18.8},{"stunde":130.8,"wert":20.8},{"stunde":132.1,"wert":22.4},{"stunde":133.1,"wert":23.4},{"stunde":134.5,"wert":24.3},{"stunde":136.1,"wert":25.5},{"stunde":137.1,"wert":25.4},{"stunde":138.1,"wert":24.9},{"stunde":139.1,"wert":23.6},{"stunde":140.2,"wert":21.7},{"stunde":141.4,"wert":19.9},{"stunde":143,"wert":17.6},{"stunde":144.6,"wert":15.9},{"stunde":146.2,"wert":14.9},{"stunde":147.7,"wert":14.4},{"stunde":148.9,"wert":13.5},{"stunde":150.1,"wert":13.5},{"stunde":151.1,"wert":14.7},{"stunde":152.1,"wert":17.6},{"stunde":153.1,"wert":19.9},{"stunde":154.1,"wert":20.5},{"stunde":155,"wert":21.8},{"stunde":156.2,"wert":22.7},{"stunde":157.6,"wert":24.5},{"stunde":158.8,"wert":25.5},{"stunde":160,"wert":25.4},{"stunde":161,"wert":24.7},{"stunde":162.1,"wert":24.5},{"stunde":163.1,"wert":23.9},{"stunde":164.3,"wert":23.1},{"stunde":165.1,"wert":21.8},{"stunde":165.9,"wert":19.5},{"stunde":167,"wert":18.2}],
    "regen": [{"stunde":0,"wert":0.4},{"stunde":1,"wert":0.6},{"stunde":2,"wert":0.2},{"stunde":29,"wert":1.2},{"stunde":30,"wert":0.8},{"stunde":31,"wert":0.2},{"stunde":36,"wert":0.2},{"stunde":70,"wert":20.4},{"stunde":83,"wert":0.2},{"stunde":89,"wert":4.0},{"stunde":90,"wert":7.8},{"stunde":91,"wert":1.4},{"stunde":166,"wert":0.4}],
    "tabelle": [
      {"block":0,"zeile":0,"links":"Sensor"},{"block":0,"zeile":1,"links":"MinWert"},{"block":0,"zeile":2,"links":"MaxWert"},{"block":0,"zeile":3,"links":"Durchschnitt"},{"block":0,"zeile":4,"links":"03.06. 23:00"},
      {"block":1,"zeile":0,"links":"Temp. A.","rechts":"°C"},{"block":1,"zeile":1,"links":"01.06.  06:01","rechts":"12.6"},{"block":1,"zeile":2,"links":"30.05.  15:20","rechts":"26.4"},{"block":1,"zeile":3,"links":"","rechts":"19.23"},{"block":1,"zeile":4,"links":"","rechts":"↓18.1"},
      {"block":2,"zeile":0,"links":"Feuchte A.","rechts":"%"},{"block":2,"zeile":1,"links":"28.05.  16:48","rechts":"42"},{"block":2,"zeile":2,"links":"31.05.  06:52","rechts":"97"},{"block":2,"zeile":3,"links":"","rechts":"77"},{"block":2,"zeile":4,"links":"","rechts":"90"},
      {"block":3,"zeile":0,"links":"Luftdruck","rechts":"hPa"},{"block":3,"zeile":1,"links":"03.06.  19:50","rechts":"1010.4"},{"block":3,"zeile":2,"links":"02.06.  06:06","rechts":"1020.4"},{"block":3,"zeile":3,"links":"^2.0hPa/h","rechts":"1015.4"},{"block":3,"zeile":4,"links":"","rechts":"↑1012.4"},
      {"block":4,"zeile":0,"links":"Wind","rechts":"km/h"},{"block":4,"zeile":1,"links":"28.05.  00:00","rechts":"0.0"},{"block":4,"zeile":2,"links":"31.05.  18:03","rechts":"19.4"},{"block":4,"zeile":3,"links":"","rechts":"1.8"},{"block":4,"zeile":4,"links":" 0 Bft S-SO","rechts":"0.5"},
      {"block":5,"zeile":0,"links":"Windböen","rechts":"km/h"},{"block":5,"zeile":1,"links":"28.05.  00:00","rechts":"0.0"},{"block":5,"zeile":2,"links":"31.05.  17:58","rechts":"41.8"},{"block":5,"zeile":3,"links":"","rechts":"3.5"},{"block":5,"zeile":4,"links":" 1 Bft S-SW","rechts":"2.0"},
      {"block":6,"zeile":0,"links":"Regen","rechts":"l/m²"},{"block":6,"zeile":2,"links":"30.05.  22:26","rechts":"20.4"},{"block":6,"zeile":3,"links":"Gesamt:","rechts":"37.8"},{"block":6,"zeile":4,"links":" 37.8 l/m²","rechts":"0.0"},
      {"block":7,"zeile":0,"links":"UV","rechts":"UV-I"},{"block":7,"zeile":1,"links":"28.05.  00:00","rechts":"0.0"},{"block":7,"zeile":2,"links":"29.05.  13:03","rechts":"7.2"},{"block":7,"zeile":3,"links":"","rechts":"3.0"},{"block":7,"zeile":4,"links":"","rechts":"0.0"},
      {"block":8,"zeile":0,"links":"Solar","rechts":"W/m²"},{"block":8,"zeile":1,"links":"Elevation","rechts":"-12.901"},{"block":8,"zeile":2,"links":"29.05.  13:02","rechts":"1150"},{"block":8,"zeile":3,"links":"69:57 h","rechts":"242"},{"block":8,"zeile":4,"links":"dunkel","rechts":"0"}
    ],
    "aktuell": [
      {"block":0,"zeile":5,"links":"Wetterdaten"},{"block":0,"zeile":6,"links":"03.06.18 23:00"},
      {"block":1,"zeile":5,"links":"Temp. I.","rechts":"23.8 °C"},{"block":1,"zeile":6,"links":"Feuchte I.","rechts":"62 %"},
      {"block":2,"zeile":5,"links":"Temp. A.","rechts":"18.1 °C"},{"block":2,"zeile":6,"links":"Feuchte A.","rechts":"90 %"},
      {"block":3,"zeile":5,"links":"Luftdruck","rechts":"1012.4 hPa"},{"block":3,"zeile":6,"links":"Regen","rechts":"0.0 l/m²"},
      {"block":4,"zeile":5,"links":"Wind","rechts":"0.5 km/h"},{"block":4,"zeile":6,"links":"Richtung","rechts":"S-SO"}
    ],
    "zusatz": [
      {"gruppe":1,"zeile":5,"name":"Windböen","wert":"2.0 km/h"},
      {"gruppe":1,"zeile":6,"name":"Taupunkt","wert":"16.4 °C"},
      {"gruppe":2,"zeile":6,"name":"Windchill","wert":"18.1 °C"}
    ]
  },
  "layer": [
    {
      "data": {"name": "solar"},
      "mark": {"type": "line", "color": "#D8D8D8", "strokeWidth": 2.5},
      "encoding": {
        "x": {"field": "stunde", "type": "quantitative", "scale": {"domain": [0, 167], "nice": false, "zero": false},
          "axis": {"orient": "bottom", "values": [0, 24, 48, 72, 96, 120, 144], "labelExpr": "['28.05.\u00a0\u00a0Mo','29.05.\u00a0\u00a0Di','30.05.\u00a0\u00a0Mi','31.05.\u00a0\u00a0Do','01.06.\u00a0\u00a0Fr','02.06.\u00a0\u00a0Sa','03.06.\u00a0\u00a0So'][round(datum.value/24)]", "grid": true, "gridColor": "#808080", "gridDash": [3, 3], "gridWidth": 1, "domain": false, "ticks": false, "labelAlign": "left", "labelOffset": -14, "labelPadding": 8, "labelColor": "#000000", "title": null}},
        "y": {"field": "wert", "type": "quantitative", "scale": {"domain": [0, 1200], "nice": false},
          "axis": {"orient": "left", "offset": 0, "values": [0, 200, 400, 600, 800, 1000, 1200], "format": "d", "labelColor": "#C8C8C8", "domain": false, "title": "W/m²", "titleColor": "#C8C8C8", "titleAngle": 0, "titleX": -25, "titleY": -16, "titleAlign": "center", "titleBaseline": "middle"}}
      }
    },
    {
      "data": {"name": "sonne"},
      "mark": {"type": "bar", "color": "#F8D000", "size": 4.5},
      "encoding": {
        "x": {"field": "stunde", "type": "quantitative", "scale": {"domain": [0, 167], "nice": false, "zero": false}, "axis": null},
        "y": {"field": "wert", "type": "quantitative", "scale": {"domain": [0, 10], "nice": false},
          "axis": {"orient": "right", "offset": 75, "values": [0, 1, 2, 3, 4, 5, 6, 7, 8, 9, 10], "format": "d", "labelColor": "#F0C000", "title": "h", "titleColor": "#F0C000", "titleAngle": 0, "titleX": 2, "titleY": -16, "titleAlign": "center", "titleBaseline": "middle"}}
      }
    },
    {
      "data": {"name": "wind"},
      "mark": {"type": "line", "color": "#000000", "strokeWidth": 1, "strokeDash": [6, 3]},
      "encoding": {
        "x": {"field": "stunde", "type": "quantitative", "scale": {"domain": [0, 167], "nice": false, "zero": false}, "axis": null},
        "y": {"field": "wert", "type": "quantitative", "scale": {"domain": [0, 50], "nice": false},
          "axis": {"orient": "left", "offset": 36, "values": [0, 5, 10, 15, 20, 25, 30, 35, 40, 45, 50], "format": ".1f", "labelColor": "#000000", "title": "km/h", "titleColor": "#000000", "titleAngle": 0, "titleX": -22, "titleY": -16, "titleAlign": "center", "titleBaseline": "middle"}}
      }
    },
    {
      "data": {"name": "boeen"},
      "mark": {"type": "line", "color": "#000080", "strokeWidth": 1, "strokeDash": [2, 2]},
      "encoding": {
        "x": {"field": "stunde", "type": "quantitative", "scale": {"domain": [0, 167], "nice": false, "zero": false}, "axis": null},
        "y": {"field": "wert", "type": "quantitative", "scale": {"domain": [0, 50], "nice": false}, "axis": null}
      }
    },
    {
      "data": {"name": "taupunkt"},
      "mark": {"type": "line", "color": "#408080", "strokeWidth": 1},
      "encoding": {
        "x": {"field": "stunde", "type": "quantitative", "scale": {"domain": [0, 167], "nice": false, "zero": false}, "axis": null},
        "y": {"field": "wert", "type": "quantitative", "scale": {"domain": [-20, 35], "nice": false, "zero": false}, "axis": null}
      }
    },
    {
      "data": {"name": "feuchte"},
      "mark": {"type": "line", "color": "#FF0000", "strokeWidth": 1, "strokeDash": [7, 3]},
      "encoding": {
        "x": {"field": "stunde", "type": "quantitative", "scale": {"domain": [0, 167], "nice": false, "zero": false}, "axis": null},
        "y": {"field": "wert", "type": "quantitative", "scale": {"domain": [0, 100], "nice": false},
          "axis": {"orient": "right", "offset": 0, "values": [0, 10, 20, 30, 40, 50, 60, 70, 80, 90, 100], "format": "d", "labelColor": "#FF0000", "domain": false, "title": "%", "titleColor": "#FF0000", "titleAngle": 0, "titleX": 5, "titleY": -16, "titleAlign": "center", "titleBaseline": "middle"}}
      }
    },
    {
      "data": {"name": "luftdruck"},
      "mark": {"type": "line", "color": "#000000", "strokeWidth": 2.5},
      "encoding": {
        "x": {"field": "stunde", "type": "quantitative", "scale": {"domain": [0, 167], "nice": false, "zero": false}, "axis": null},
        "y": {"field": "wert", "type": "quantitative", "scale": {"domain": [990, 1030], "nice": false, "zero": false},
          "axis": {"orient": "left", "offset": 73, "values": [990, 995, 1000, 1005, 1010, 1015, 1020, 1025], "format": "d", "labelColor": "#000000", "title": "hPa", "titleColor": "#000000", "titleAngle": 0, "titleX": -20, "titleY": -16, "titleAlign": "center", "titleBaseline": "middle"}}
      }
    },
    {
      "data": {"name": "windchill"},
      "mark": {"type": "line", "color": "#0000FF", "strokeWidth": 1.5},
      "encoding": {
        "x": {"field": "stunde", "type": "quantitative", "scale": {"domain": [0, 167], "nice": false, "zero": false}, "axis": null},
        "y": {"field": "wert", "type": "quantitative", "scale": {"domain": [-20, 35], "nice": false, "zero": false},
          "axis": {"orient": "left", "offset": 0, "values": [-15, -10, -5, 0, 5, 10, 15, 20, 25, 30], "grid": true, "gridColor": "#808080", "gridDash": [4, 4], "gridWidth": 1, "labels": false, "ticks": false, "domain": false, "title": null}}
      }
    },
    {
      "data": {"name": "temp"},
      "mark": {"type": "line", "color": "#FF0000", "strokeWidth": 2.5},
      "encoding": {
        "x": {"field": "stunde", "type": "quantitative", "scale": {"domain": [0, 167], "nice": false, "zero": false}, "axis": null},
        "y": {"field": "wert", "type": "quantitative", "scale": {"domain": [-20, 35], "nice": false, "zero": false},
          "axis": {"orient": "left", "offset": 110, "values": [-20, -15, -10, -5, 0, 5, 10, 15, 20, 25, 30, 35], "format": ".1f", "labelColor": "#FF0000", "title": "°C", "titleColor": "#FF0000", "titleAngle": 0, "titleX": -17, "titleY": -16, "titleAlign": "center", "titleBaseline": "middle"}}
      }
    },
    {
      "data": {"name": "regen"},
      "mark": {"type": "bar", "color": "#8000FF", "size": 3},
      "encoding": {
        "x": {"field": "stunde", "type": "quantitative", "scale": {"domain": [0, 167], "nice": false, "zero": false}, "axis": null},
        "y": {"field": "wert", "type": "quantitative", "scale": {"domain": [0, 25], "nice": false},
          "axis": {"orient": "right", "offset": 38, "values": [0, 2, 4, 6, 8, 10, 12, 14, 16, 18, 20, 22, 24], "format": ".1f", "labelColor": "#8000FF", "title": "l/m²", "titleColor": "#8000FF", "titleAngle": 0, "titleX": 9, "titleY": -16, "titleAlign": "center", "titleBaseline": "middle"}}
      }
    },
    {
      "data": {"values": [{"stunde": 40.3, "ereignis": "Vollmond"}]},
      "mark": {"type": "point", "shape": "circle", "filled": false, "color": "#000000", "size": 80, "strokeWidth": 1.2},
      "encoding": {
        "x": {"field": "stunde", "type": "quantitative", "scale": {"domain": [0, 167], "nice": false, "zero": false}, "axis": null},
        "y": {"datum": 0, "type": "quantitative", "scale": {"domain": [0, 1], "range": [715, 690]}, "axis": null}
      }
    },
    {
      "data": {"values": [{"reihe": "Temp. A."}, {"reihe": "Feuchte A."}, {"reihe": "Luftdruck"}, {"reihe": "Regen"}, {"reihe": "Wind"}, {"reihe": "Sonnenschein"}, {"reihe": "Solar"}, {"reihe": "Taupunkt"}, {"reihe": "Windchill"}, {"reihe": "Windböen"}]},
      "mark": {"type": "point", "shape": "square", "filled": true, "opacity": 0},
      "encoding": {
        "color": {"field": "reihe", "type": "nominal",
          "scale": {"domain": ["Temp. A.", "Feuchte A.", "Luftdruck", "Regen", "Wind", "Sonnenschein", "Solar", "Taupunkt", "Windchill", "Windböen"], "range": ["#FF0000", "#FF0000", "#000000", "#8000FF", "#000000", "#F8D000", "#D8D8D8", "#408080", "#0000FF", "#000080"]},
          "legend": {"orient": "none", "legendX": 10, "legendY": -15, "direction": "horizontal", "columns": 10, "gridAlign": "all", "columnPadding": 7.3, "rowPadding": 0, "padding": 0, "symbolType": "square", "symbolSize": 100, "symbolStrokeColor": "#000000", "symbolStrokeWidth": 1, "labelFont": "Liberation Sans", "labelFontSize": 11, "labelOffset": 5, "labelLimit": 200, "title": null,
            "labelColor": {"expr": "(datum.label == 'Luftdruck' || datum.label == 'Wind' || datum.label == 'Windböen') ? '#000000' : datum.label == 'Regen' ? '#8000FF' : datum.label == 'Sonnenschein' ? '#F0C000' : datum.label == 'Solar' ? '#C8C8C8' : '#FF0000'"}}}
      }
    },
    {
      "data": {"values": [{"tafel": "Sensorwerte"}]},
      "mark": {"type": "rect", "fill": "#CCF8F6", "stroke": "#A0B0B0", "strokeWidth": 1},
      "encoding": {
        "x": {"datum": 0, "type": "quantitative", "scale": {"domain": [1, 9], "range": [-65, 879], "nice": false, "zero": false}, "axis": null},
        "x2": {"datum": 15},
        "y": {"datum": -0.88, "type": "quantitative", "scale": {"domain": [0, 4], "range": [744, 807.5], "nice": false, "zero": false}, "axis": null},
        "y2": {"datum": 4.72}
      }
    },
    {
      "data": {"values": [{"tafel": "Wetterdaten"}]},
      "mark": {"type": "rect", "fill": "#AAEEE2", "stroke": "#A0B0B0", "strokeWidth": 1},
      "encoding": {
        "x": {"datum": 0, "type": "quantitative", "scale": {"domain": [1, 9], "range": [-65, 879], "nice": false, "zero": false}, "axis": null},
        "x2": {"datum": 15},
        "y": {"datum": 4.46, "type": "quantitative", "scale": {"domain": [5, 6], "range": [831.5, 849], "nice": false, "zero": false}, "axis": null},
        "y2": {"datum": 7}
      }
    },
    {
      "data": {"values": [{"block": 1}, {"block": 2}, {"block": 3}, {"block": 4}, {"block": 5}, {"block": 6}, {"block": 7}, {"block": 8}]},
      "mark": {"type": "rule", "color": "#A0B4B4", "strokeWidth": 1},
      "encoding": {
        "x": {"field": "block", "type": "quantitative", "scale": {"domain": [1, 9], "range": [-65, 879], "nice": false, "zero": false}, "axis": null},
        "y": {"datum": -0.7, "type": "quantitative", "scale": {"domain": [0, 4], "range": [744, 807.5], "nice": false, "zero": false}, "axis": null},
        "y2": {"datum": 4.6}
      }
    },
    {
      "data": {"values": [{"block": 1}, {"block": 2}, {"block": 3}, {"block": 4}, {"block": 5}]},
      "mark": {"type": "rule", "color": "#A0B4B4", "strokeWidth": 1},
      "encoding": {
        "x": {"field": "block", "type": "quantitative", "scale": {"domain": [1, 9], "range": [-65, 879], "nice": false, "zero": false}, "axis": null},
        "y": {"datum": 4.6, "type": "quantitative", "scale": {"domain": [5, 6], "range": [831.5, 849], "nice": false, "zero": false}, "axis": null},
        "y2": {"datum": 6.85}
      }
    },
    {
      "data": {"name": "tabelle"},
      "transform": [{"filter": "datum.block == 0"}],
      "mark": {"type": "text", "align": "left", "baseline": "middle", "dx": 41.6, "fontWeight": "bold", "color": "#000000"},
      "encoding": {
        "x": {"field": "block", "type": "quantitative", "scale": {"domain": [1, 9], "range": [-65, 879], "nice": false, "zero": false}, "axis": null},
        "y": {"field": "zeile", "type": "quantitative", "scale": {"domain": [0, 4], "range": [744, 807.5], "nice": false, "zero": false}, "axis": null},
        "text": {"field": "links"}
      }
    },
    {
      "data": {"name": "tabelle"},
      "transform": [{"filter": "datum.block > 0 && datum.zeile == 0"}],
      "mark": {"type": "text", "align": "left", "baseline": "middle", "dx": 9, "fontWeight": "bold", "color": "#000000"},
      "encoding": {
        "x": {"field": "block", "type": "quantitative", "scale": {"domain": [1, 9], "range": [-65, 879], "nice": false, "zero": false}, "axis": null},
        "y": {"field": "zeile", "type": "quantitative", "scale": {"domain": [0, 4], "range": [744, 807.5], "nice": false, "zero": false}, "axis": null},
        "text": {"field": "links"}
      }
    },
    {
      "data": {"name": "tabelle"},
      "transform": [{"filter": "datum.block > 0 && datum.zeile > 0"}],
      "mark": {"type": "text", "align": "left", "baseline": "middle", "dx": 9, "color": "#000000"},
      "encoding": {
        "x": {"field": "block", "type": "quantitative", "scale": {"domain": [1, 9], "range": [-65, 879], "nice": false, "zero": false}, "axis": null},
        "y": {"field": "zeile", "type": "quantitative", "scale": {"domain": [0, 4], "range": [744, 807.5], "nice": false, "zero": false}, "axis": null},
        "text": {"field": "links"}
      }
    },
    {
      "data": {"name": "tabelle"},
      "transform": [{"filter": "isValid(datum.rechts) && (datum.zeile == 0 || datum.zeile == 4)"}],
      "mark": {"type": "text", "align": "right", "baseline": "middle", "dx": 112, "fontWeight": "bold", "color": "#000000"},
      "encoding": {
        "x": {"field": "block", "type": "quantitative", "scale": {"domain": [1, 9], "range": [-65, 879], "nice": false, "zero": false}, "axis": null},
        "y": {"field": "zeile", "type": "quantitative", "scale": {"domain": [0, 4], "range": [744, 807.5], "nice": false, "zero": false}, "axis": null},
        "text": {"field": "rechts"}
      }
    },
    {
      "data": {"name": "tabelle"},
      "transform": [{"filter": "isValid(datum.rechts) && datum.zeile > 0 && datum.zeile < 4"}],
      "mark": {"type": "text", "align": "right", "baseline": "middle", "dx": 112, "color": "#000000"},
      "encoding": {
        "x": {"field": "block", "type": "quantitative", "scale": {"domain": [1, 9], "range": [-65, 879], "nice": false, "zero": false}, "axis": null},
        "y": {"field": "zeile", "type": "quantitative", "scale": {"domain": [0, 4], "range": [744, 807.5], "nice": false, "zero": false}, "axis": null},
        "text": {"field": "rechts"}
      }
    },
    {
      "data": {"name": "aktuell"},
      "transform": [{"filter": "datum.block == 0"}],
      "mark": {"type": "text", "align": "left", "baseline": "middle", "dx": 41.6, "fontSize": 10.5, "color": "#000000"},
      "encoding": {
        "x": {"field": "block", "type": "quantitative", "scale": {"domain": [1, 9], "range": [-65, 879], "nice": false, "zero": false}, "axis": null},
        "y": {"field": "zeile", "type": "quantitative", "scale": {"domain": [5, 6], "range": [831.5, 849], "nice": false, "zero": false}, "axis": null},
        "text": {"field": "links"}
      }
    },
    {
      "data": {"name": "aktuell"},
      "transform": [{"filter": "datum.block > 0"}],
      "mark": {"type": "text", "align": "left", "baseline": "middle", "dx": 9, "fontSize": 10.5, "color": "#000000"},
      "encoding": {
        "x": {"field": "block", "type": "quantitative", "scale": {"domain": [1, 9], "range": [-65, 879], "nice": false, "zero": false}, "axis": null},
        "y": {"field": "zeile", "type": "quantitative", "scale": {"domain": [5, 6], "range": [831.5, 849], "nice": false, "zero": false}, "axis": null},
        "text": {"field": "links"}
      }
    },
    {
      "data": {"name": "aktuell"},
      "transform": [{"filter": "isValid(datum.rechts)"}],
      "mark": {"type": "text", "align": "right", "baseline": "middle", "dx": 113, "fontSize": 10.5, "color": "#000000"},
      "encoding": {
        "x": {"field": "block", "type": "quantitative", "scale": {"domain": [1, 9], "range": [-65, 879], "nice": false, "zero": false}, "axis": null},
        "y": {"field": "zeile", "type": "quantitative", "scale": {"domain": [5, 6], "range": [831.5, 849], "nice": false, "zero": false}, "axis": null},
        "text": {"field": "rechts"}
      }
    },
    {
      "data": {"name": "zusatz"},
      "mark": {"type": "text", "align": "left", "baseline": "middle", "fontSize": 10.5, "color": "#000000"},
      "encoding": {
        "x": {"field": "gruppe", "type": "quantitative", "scale": {"domain": [1, 2], "range": [1275, 1414], "nice": false, "zero": false}, "axis": null},
        "y": {"field": "zeile", "type": "quantitative", "scale": {"domain": [5, 6], "range": [831.5, 849], "nice": false, "zero": false}, "axis": null},
        "text": {"field": "name"}
      }
    },
    {
      "data": {"name": "zusatz"},
      "mark": {"type": "text", "align": "left", "baseline": "middle", "fontSize": 10.5, "color": "#000000"},
      "encoding": {
        "x": {"field": "gruppe", "type": "quantitative", "scale": {"domain": [1, 2], "range": [1348, 1476], "nice": false, "zero": false}, "axis": null},
        "y": {"field": "zeile", "type": "quantitative", "scale": {"domain": [5, 6], "range": [831.5, 849], "nice": false, "zero": false}, "axis": null},
        "text": {"field": "wert"}
      }
    }
  ]
}
